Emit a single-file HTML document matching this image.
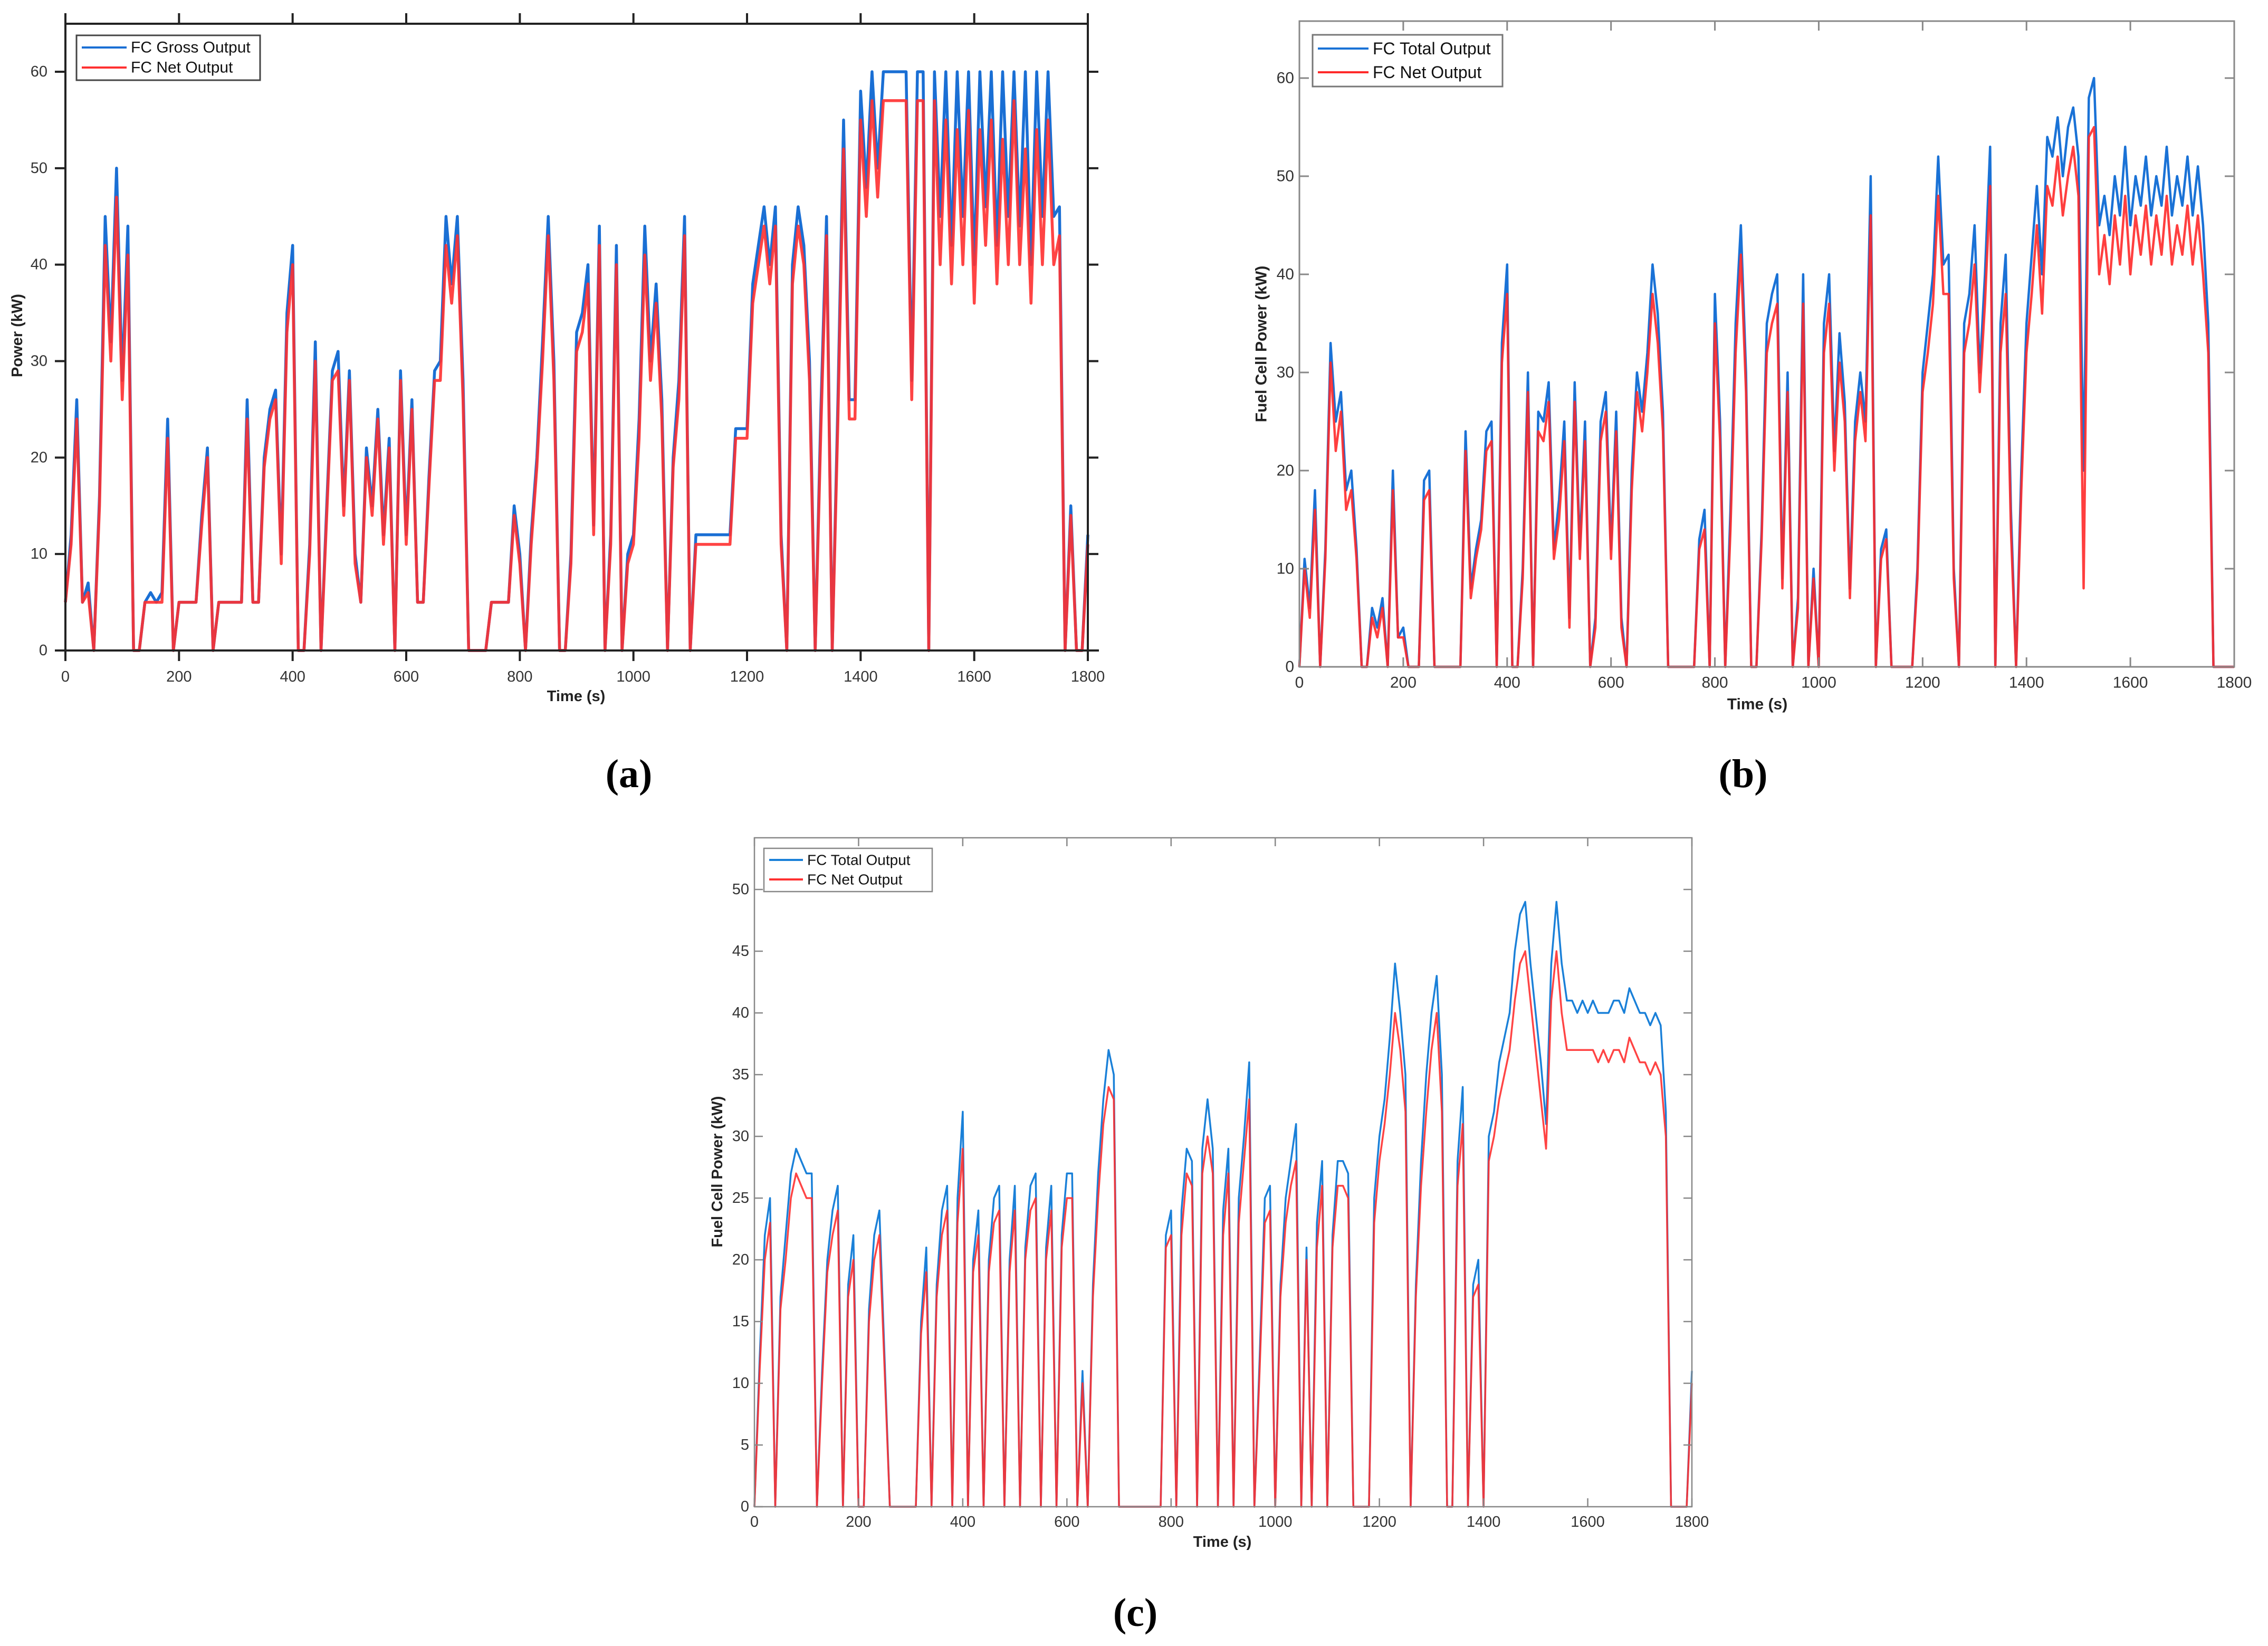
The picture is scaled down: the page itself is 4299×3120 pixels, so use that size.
<!DOCTYPE html>
<html><head><meta charset="utf-8"><style>
html,body{margin:0;padding:0;background:#fff;}
svg{display:block;}
text{font-family:"Liberation Sans",Arial,sans-serif;}
</style></head><body>
<svg id="fig" width="4299" height="3120" viewBox="0 0 4299 3120" xmlns="http://www.w3.org/2000/svg">
<rect width="4299" height="3120" fill="#fff"/>
</svg>
<script>
const STEP = 10;
const xTicks = [0,200,400,600,800,1000,1200,1400,1600,1800];
const yTicksAB = [0,10,20,30,40,50,60];
const yTicksC = [0,5,10,15,20,25,30,35,40,45,50];
const aGross = [5,12,26,5,7,0,16,45,32,50,
28,44,0,0,5,6,5,6,24,0,
5,5,5,5,14,21,0,5,5,5,
5,5,26,5,5,20,25,27,10,35,
42,0,0,11,32,0,15,29,31,15,
29,10,5,21,15,25,12,22,0,29,
12,26,5,5,18,29,30,45,38,45,
28,0,0,0,0,5,5,5,5,15,
10,0,12,20,32,45,30,0,0,10,
33,35,40,13,44,0,12,42,0,10,
12,24,44,30,38,26,0,20,28,45,
0,12,12,12,12,12,12,12,23,23,
23,38,42,46,40,46,12,0,40,46,
42,30,0,25,45,0,26,55,26,26,
58,48,60,50,60,60,60,60,60,28,
60,60,0,60,45,60,42,60,45,60,
40,60,46,60,42,60,45,60,44,60,
40,60,45,60,45,46,0,15,0,0,
12];
const aNet = [5,11,24,5,6,0,15,42,30,47,
26,41,0,0,5,5,5,5,22,0,
5,5,5,5,13,20,0,5,5,5,
5,5,24,5,5,19,24,26,9,33,
40,0,0,10,30,0,14,28,29,14,
28,9,5,20,14,24,11,21,0,28,
11,25,5,5,17,28,28,42,36,43,
26,0,0,0,0,5,5,5,5,14,
9,0,11,19,30,43,28,0,0,9,
31,33,38,12,42,0,11,40,0,9,
11,22,41,28,36,24,0,19,26,43,
0,11,11,11,11,11,11,11,22,22,
22,36,40,44,38,44,11,0,38,44,
40,28,0,23,43,0,24,52,24,24,
55,45,57,47,57,57,57,57,57,26,
57,57,0,57,40,55,38,54,40,56,
36,54,42,55,38,53,40,57,40,52,
36,54,40,55,40,43,0,14,0,0,
11];
const bGross = [0,11,6,18,0,12,33,25,28,18,
20,12,0,0,6,4,7,0,20,3,
4,0,0,0,19,20,0,0,0,0,
0,0,24,8,12,15,24,25,0,33,
41,0,0,10,30,0,26,25,29,12,
17,25,5,29,12,25,0,5,25,28,
12,26,5,0,20,30,26,32,41,36,
26,0,0,0,0,0,0,13,16,0,
38,25,0,16,35,45,30,0,0,14,
35,38,40,9,30,0,7,40,0,10,
0,35,40,22,34,27,8,25,30,25,
50,0,12,14,0,0,0,0,0,10,
30,35,40,52,41,42,10,0,35,38,
45,30,40,53,0,35,42,16,0,20,
35,42,49,40,54,52,56,50,55,57,
52,20,58,60,45,48,44,50,46,53,
45,50,47,52,46,50,47,53,46,50,
47,52,46,51,45,35,0,0,0,0,
0];
const bNet = [0,10,5,16,0,11,31,22,26,16,
18,11,0,0,5,3,6,0,18,3,
3,0,0,0,17,18,0,0,0,0,
0,0,22,7,11,14,22,23,0,31,
38,0,0,9,28,0,24,23,27,11,
15,23,4,27,11,23,0,4,23,26,
11,24,4,0,18,28,24,30,38,33,
24,0,0,0,0,0,0,12,14,0,
35,23,0,14,32,42,28,0,0,13,
32,35,37,8,28,0,6,37,0,9,
0,32,37,20,31,25,7,23,28,23,
46,0,11,13,0,0,0,0,0,9,
28,32,37,48,38,38,9,0,32,35,
41,28,37,49,0,32,38,14,0,18,
32,38,45,36,49,47,52,46,50,53,
48,8,54,55,40,44,39,46,41,48,
40,46,42,47,41,46,42,48,41,45,
42,47,41,46,40,32,0,0,0,0,
0];
const cGross = [0,12,22,25,0,17,22,27,29,28,
27,27,0,11,20,24,26,0,18,22,
0,0,16,22,24,12,0,0,0,0,
0,0,15,21,0,18,24,26,0,25,
32,0,20,24,0,20,25,26,0,20,
26,0,21,26,27,0,21,26,0,22,
27,27,0,11,0,18,27,33,37,35,
0,0,0,0,0,0,0,0,0,22,
24,0,24,29,28,0,29,33,29,0,
24,29,0,25,30,36,0,12,25,26,
0,18,25,28,31,0,21,0,23,28,
0,22,28,28,27,0,0,0,0,25,
30,33,38,44,40,35,0,18,28,35,
40,43,35,0,0,28,34,0,18,20,
0,30,32,36,38,40,45,48,49,44,
40,36,31,44,49,44,41,41,40,41,
40,41,40,40,40,41,41,40,42,41,
40,40,39,40,39,32,0,0,0,0,
11];
const cNet = [0,11,20,23,0,16,20,25,27,26,
25,25,0,10,19,22,24,0,17,20,
0,0,15,20,22,11,0,0,0,0,
0,0,14,19,0,17,22,24,0,23,
29,0,19,22,0,19,23,24,0,19,
24,0,20,24,25,0,20,24,0,21,
25,25,0,10,0,17,25,31,34,33,
0,0,0,0,0,0,0,0,0,21,
22,0,22,27,26,0,27,30,27,0,
22,27,0,23,28,33,0,11,23,24,
0,17,23,26,28,0,20,0,21,26,
0,21,26,26,25,0,0,0,0,23,
28,31,35,40,37,32,0,17,26,32,
37,40,32,0,0,26,31,0,17,18,
0,28,30,33,35,37,41,44,45,41,
37,33,29,41,45,40,37,37,37,37,
37,37,36,37,36,37,37,36,38,37,
36,36,35,36,35,30,0,0,0,0,
10];

const NS = 'http://www.w3.org/2000/svg';
const svg = document.getElementById('fig');
function mk(tag, attrs, parent){
  const e = document.createElementNS(NS, tag);
  for (const k in attrs) e.setAttribute(k, attrs[k]);
  (parent||svg).appendChild(e);
  return e;
}
function txt(s, attrs, parent){ const e = mk('text', attrs, parent); e.textContent = s; return e; }

function panel(cfg){
  const g = mk('g', {});
  
  
  const X = t => cfg.x0 + (t - 0) * (cfg.x1 - cfg.x0) / 1800;
  const Y = v => cfg.y0 - v * (cfg.y0 - cfg.yRef) / cfg.vRef;
  const ac = cfg.axisColor, aw = cfg.axisW, tl = cfg.tickLen, dir = cfg.out ? -1 : 1;
  const series = [[cfg.gross, cfg.blue, 1, 'gross-line'], [cfg.net, cfg.red, 0.9, 'net-line']];
  series.forEach(s => {
    let d = '';
    s[0].forEach((v, i) => { d += (i ? 'L' : 'M') + X(i * STEP).toFixed(1) + ' ' + Y(v).toFixed(1); });
    const p = mk('path', {d: d, fill: 'none', stroke: s[1], 'stroke-width': cfg.lw, 'stroke-opacity': s[2], 'stroke-linejoin': 'round'}, g);
    
    
  });
  const top = cfg.yTop, right = cfg.xRight;
  const box = mk('path', {d: `M${cfg.x0} ${top}H${right}V${cfg.y0}H${cfg.x0}Z`, fill: 'none', stroke: ac, 'stroke-width': aw}, g);
  
  
  if (cfg.extend) mk('line', {x1: right, y1: cfg.y0, x2: right + cfg.extend, y2: cfg.y0, stroke: ac, 'stroke-width': aw}, g);
  xTicks.forEach(t => {
    const x = X(t);
    mk('line', {x1: x, y1: cfg.y0, x2: x, y2: cfg.y0 - dir * tl, stroke: ac, 'stroke-width': aw}, g);
    mk('line', {x1: x, y1: top, x2: x, y2: top + dir * tl, stroke: ac, 'stroke-width': aw}, g);
    const l = txt(String(t), {x: x, y: cfg.xLabY, 'font-size': cfg.fs, fill: '#333', 'text-anchor': 'middle', 'dominant-baseline': 'central'}, g);
    
    
  });
  cfg.yTicks.forEach(v => {
    const y = Y(v);
    mk('line', {x1: cfg.x0, y1: y, x2: cfg.x0 + dir * tl, y2: y, stroke: ac, 'stroke-width': aw}, g);
    mk('line', {x1: right, y1: y, x2: right - dir * tl, y2: y, stroke: ac, 'stroke-width': aw}, g);
    const l = txt(String(v), {x: cfg.yLabX, y: y, 'font-size': cfg.fs, fill: '#333', 'text-anchor': 'end', 'dominant-baseline': 'central'}, g);
    
    
  });
  const xt = txt('Time (s)', {x: cfg.xtX, y: cfg.xtY, 'font-size': cfg.fs, 'font-weight': 'bold', fill: '#222', 'text-anchor': 'middle', 'dominant-baseline': 'central'}, g);
  
  
  const yt = txt(cfg.yTitle, {x: 0, y: 0, 'font-size': cfg.fs, 'font-weight': 'bold', fill: '#222', 'text-anchor': 'middle', 'dominant-baseline': 'central', transform: `translate(${cfg.ytX},${cfg.ytY}) rotate(-90)`}, g);
  
  
  const L = cfg.leg;
  const lg = mk('g', {}, g);
  
  
  mk('rect', {x: L.x, y: L.y, width: L.w, height: L.h, fill: '#fff', stroke: cfg.legStroke, 'stroke-width': cfg.legSW}, lg);
  [[cfg.names[0], cfg.blue, L.r1], [cfg.names[1], cfg.red, L.r2]].forEach(r => {
    const e = mk('g', {}, lg);
    
    
    mk('line', {x1: L.x + 10, y1: r[2], x2: L.sx, y2: r[2], stroke: r[1], 'stroke-width': cfg.legLW}, e);
    txt(r[0], {x: L.sx + 8, y: r[2], 'font-size': L.fs, fill: '#111', 'dominant-baseline': 'central'}, e);
  });
  const fl = txt(cfg.label, {x: cfg.labX, y: cfg.labY, 'font-size': 76, 'font-weight': 'bold', fill: '#000', 'text-anchor': 'middle', 'dominant-baseline': 'central', style: 'font-family:"Liberation Serif",serif'});
  
  
}

panel({name: 'panel-a', gross: aGross, net: aNet, blue: '#1a6fd4', red: '#ff3030', lw: 5.5,
  x0: 124, x1: 2062, xRight: 2062, extend: 21, y0: 1233, yRef: 136, vRef: 60, yTop: 45, yTicks: yTicksAB,
  axisColor: '#222', axisW: 4, tickLen: 20, out: true, fs: 29, xLabY: 1283, yLabX: 90,
  xtX: 1092, xtY: 1320, ytX: 33, ytY: 636, yTitle: 'Power (kW)',
  leg: {x: 145, y: 67, w: 348, h: 85, r1: 90, r2: 128, sx: 240, fs: 30}, legStroke: '#444', legSW: 3, legLW: 4,
  names: ['FC Gross Output', 'FC Net Output'], label: '(a)', labX: 1192, labY: 1467});
panel({name: 'panel-b', gross: bGross, net: bNet, blue: '#1a72d6', red: '#ff2a2a', lw: 4.5,
  x0: 2463, x1: 4235, xRight: 4235, extend: 0, y0: 1264, yRef: 148, vRef: 60, yTop: 40, yTicks: yTicksAB,
  axisColor: '#888', axisW: 3, tickLen: 18, out: false, fs: 30, xLabY: 1294, yLabX: 2453,
  xtX: 3331, xtY: 1335, ytX: 2391, ytY: 652, yTitle: 'Fuel Cell Power (kW)',
  leg: {x: 2488, y: 66, w: 360, h: 98, r1: 92, r2: 137, sx: 2594, fs: 32}, legStroke: '#777', legSW: 3, legLW: 4,
  names: ['FC Total Output', 'FC Net Output'], label: '(b)', labX: 3304, labY: 1467});
panel({name: 'panel-c', gross: cGross, net: cNet, blue: '#1a80d8', red: '#ff3030', lw: 3.5,
  x0: 1430, x1: 3207, xRight: 3207, extend: 0, y0: 2856, yRef: 1686, vRef: 50, yTop: 1588, yTicks: yTicksC,
  axisColor: '#888', axisW: 2.5, tickLen: 16, out: false, fs: 29, xLabY: 2885, yLabX: 1420,
  xtX: 2317, xtY: 2923, ytX: 1360, ytY: 2221, yTitle: 'Fuel Cell Power (kW)',
  leg: {x: 1448, y: 1608, w: 319, h: 82, r1: 1630, r2: 1667, sx: 1522, fs: 28}, legStroke: '#888', legSW: 2.5, legLW: 4,
  names: ['FC Total Output', 'FC Net Output'], label: '(c)', labX: 2152, labY: 3057});
</script>
</body></html>
